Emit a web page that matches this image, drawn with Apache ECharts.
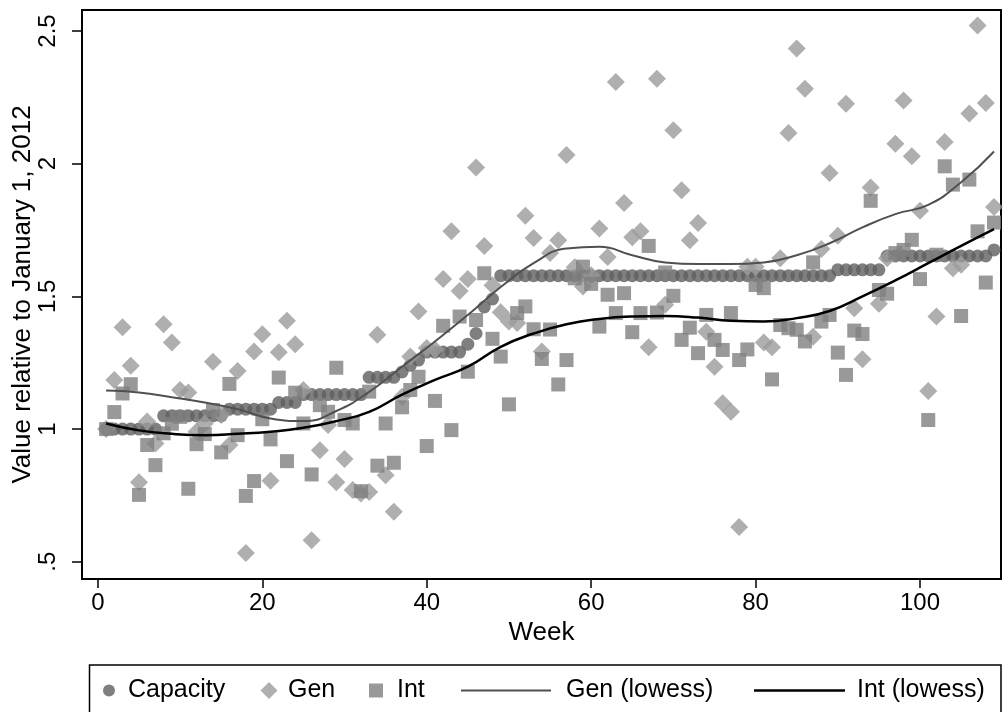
<!DOCTYPE html>
<html><head><meta charset="utf-8">
<script src="https://cdn.jsdelivr.net/npm/echarts@6/dist/echarts.min.js"></script>
<style>html,body{margin:0;padding:0;background:#fff}#c{width:1003px;height:712px}</style>
</head><body><div id="c"></div>
<script>
// Weekly values relative to January 1, 2012 (weeks 1..109)
const capacity = [
 1.00,1.00,1.00,1.00,1.00,1.00,1.00,
 1.05,1.05,1.05,1.05,1.05,1.05,1.05,1.05,
 1.075,1.075,1.075,1.075,1.075,1.075,
 1.10,1.10,1.10,
 1.13,1.13,1.13,1.13,1.13,1.13,1.13,1.13,
 1.195,1.195,1.195,1.195,
 1.215,1.24,1.26,
 1.29,1.29,1.29,1.29,1.29,
 1.32,1.36,1.46,1.49,
 1.578,1.578,1.578,1.578,1.578,1.578,1.578,1.578,1.578,1.578,
 1.578,1.578,1.578,1.578,1.578,1.578,1.578,1.578,1.578,1.578,
 1.578,1.578,1.578,1.578,1.578,1.578,1.578,1.578,1.578,1.578,
 1.578,1.578,1.578,1.578,1.578,1.578,1.578,1.578,1.578,1.578,1.578,
 1.60,1.60,1.60,1.60,1.60,1.60,
 1.652,1.652,1.652,1.652,1.652,1.652,1.652,1.652,1.652,1.652,1.652,1.652,1.652,
 1.675
];
const gen = [
 1.0,1.185,1.384,1.239,0.80,1.028,0.946,1.395,1.326,1.147,
 1.138,0.99,1.021,1.254,1.053,0.94,1.219,0.533,1.292,1.357,
 0.805,1.289,1.408,1.32,1.147,0.581,0.92,1.015,0.80,0.887,
 0.77,0.757,0.763,1.355,0.826,0.688,1.122,1.273,1.443,1.305,
 1.30,1.565,1.745,1.52,1.565,1.986,1.69,1.542,1.44,1.405,
 1.40,1.804,1.72,1.292,1.663,1.711,2.033,1.61,1.537,1.58,
 1.756,1.648,2.308,1.852,1.723,1.745,1.308,2.32,1.468,2.126,
 1.90,1.711,1.776,1.367,1.235,1.097,1.065,0.631,1.612,1.612,
 1.326,1.308,1.644,2.116,2.434,2.282,1.348,1.678,1.965,1.728,
 2.226,1.455,1.263,1.91,1.472,1.644,2.075,2.238,2.028,1.823,
 1.143,1.424,2.082,1.606,1.619,2.189,2.521,2.229,1.837
];
const intv = [
 1.0,1.064,1.134,1.169,0.752,0.94,0.864,0.984,1.02,1.046,
 0.775,0.943,0.981,1.072,0.912,1.17,0.977,0.748,0.804,1.037,
 0.961,1.194,0.879,1.137,1.021,0.829,1.09,1.065,1.231,1.034,
 1.021,0.766,1.141,0.862,1.021,0.873,1.082,1.147,1.197,0.936,
 1.106,1.389,0.996,1.424,1.216,1.411,1.587,1.34,1.273,1.093,
 1.437,1.462,1.376,1.264,1.375,1.168,1.26,1.568,1.612,1.547,
 1.386,1.506,1.437,1.512,1.365,1.437,1.69,1.439,1.59,1.502,
 1.336,1.382,1.286,1.43,1.336,1.298,1.437,1.26,1.30,1.543,
 1.531,1.187,1.392,1.38,1.374,1.33,1.628,1.405,1.43,1.288,
 1.204,1.371,1.358,1.86,1.524,1.51,1.663,1.675,1.713,1.565,
 1.034,1.657,1.99,1.921,1.426,1.94,1.745,1.552,1.778
];
// Lowess curves, every 4 weeks
const lowessWeeks = [1,5,9,13,17,21,25,29,33,37,41,45,49,53,57,61,65,69,73,77,81,85,89,93,97,101,105,109];
const genLowess   = [1.145,1.138,1.12,1.10,1.075,1.04,1.03,1.068,1.14,1.235,1.33,1.43,1.535,1.625,1.68,1.687,1.655,1.628,1.622,1.622,1.628,1.655,1.70,1.76,1.81,1.845,1.93,2.046];
const intLowess   = [1.021,0.995,0.982,0.977,0.982,0.99,1.005,1.03,1.065,1.13,1.185,1.235,1.31,1.36,1.395,1.415,1.424,1.426,1.42,1.408,1.405,1.418,1.445,1.50,1.56,1.625,1.69,1.753];

const xTicks = [0,20,40,60,80,100];
const yTicks = [0.5,1,1.5,2,2.5];
const yTickLabels = ['.5','1','1.5','2','2.5'];

const weeks = capacity.map((_, i) => i + 1);
const pairs = (xs, ys) => xs.map((x, i) => [x, ys[i]]);
const FONT = 'Liberation Sans, Arial, sans-serif';

function legendItem(name, left, w, h, pad, icon) {
  const d = icon ? { name: name, icon: icon } : name;
  return {
    show: true, data: [d], left: left, top: 678, orient: 'horizontal',
    padding: 0, itemWidth: w, itemHeight: h, itemGap: 0, selectedMode: false,
    textStyle: { fontFamily: FONT, fontSize: 25, color: '#000', padding: [0, 0, 0, pad] }
  };
}

const chart = echarts.init(document.getElementById('c'), null, { renderer: 'canvas' });
chart.setOption({
  animation: false,
  backgroundColor: '#fff',
  grid: { left: 82, right: 2, top: 10, bottom: 133, show: true, borderColor: '#000', borderWidth: 2,
          backgroundColor: '#fff', containLabel: false, outerBoundsMode: 'none' },
  xAxis: {
    type: 'value', min: -1.93, max: 109.85,
    name: 'Week', nameLocation: 'middle', nameGap: 41, nameMoveOverlap: false,
    nameTextStyle: { fontFamily: FONT, fontSize: 26, color: '#000' },
    axisLine: { show: false, onZero: false },
    splitLine: { show: false },
    axisTick: { show: true, customValues: xTicks, length: 9, lineStyle: { color: '#000', width: 1.5 } },
    axisLabel: { customValues: xTicks, margin: 12, fontFamily: FONT, fontSize: 24, color: '#000' }
  },
  yAxis: {
    type: 'value', min: 0.435, max: 2.579,
    name: 'Value relative to January 1, 2012', nameLocation: 'middle', nameGap: 46, nameMoveOverlap: false,
    nameTextStyle: { fontFamily: FONT, fontSize: 26, color: '#000' },
    axisLine: { show: false, onZero: false },
    splitLine: { show: false },
    axisTick: { show: true, customValues: yTicks, length: 10, lineStyle: { color: '#000', width: 1.5 } },
    axisLabel: {
      customValues: yTicks, rotate: 90, margin: 22, fontFamily: FONT, fontSize: 24, color: '#000',
      formatter: v => { const i = yTicks.findIndex(t => Math.abs(t - v) < 1e-9); return i >= 0 ? yTickLabels[i] : ''; }
    }
  },
  legend: [
    legendItem('Capacity', 103, 12, 12, 8),
    legendItem('Gen', 260.5, 17, 17, 5.5),
    legendItem('Int', 369, 14, 14, 9),
    legendItem('Gen (lowess)', 461, 90, 2, 10, 'rect'),
    legendItem('Int (lowess)', 754, 91, 2.5, 7, 'rect')
  ],
  graphic: [{
    type: 'rect', silent: true, z: -1,
    shape: { x: 89.5, y: 665, width: 911.5, height: 60 },
    style: { fill: 'none', stroke: '#000', lineWidth: 1.5 }
  }],
  series: [
    { name: 'Capacity', type: 'scatter', data: pairs(weeks, capacity), symbol: 'circle', symbolSize: 13,
      itemStyle: { color: '#5f5f5f' } },
    { name: 'Gen', type: 'scatter', data: pairs(weeks, gen), symbol: 'diamond', symbolSize: 18,
      itemStyle: { color: '#9b9b9b' } },
    { name: 'Int', type: 'scatter', data: pairs(weeks, intv), symbol: 'rect', symbolSize: 14,
      itemStyle: { color: '#7f7f7f' } },
    { name: 'Gen (lowess)', type: 'line', data: pairs(lowessWeeks, genLowess), smooth: 0.5,
      symbol: 'none', lineStyle: { color: '#505050', width: 2 }, itemStyle: { color: '#505050' } },
    { name: 'Int (lowess)', type: 'line', data: pairs(lowessWeeks, intLowess), smooth: 0.5,
      symbol: 'none', lineStyle: { color: '#000', width: 2.5 }, itemStyle: { color: '#000' } }
  ]
});
</script>
</body></html>
